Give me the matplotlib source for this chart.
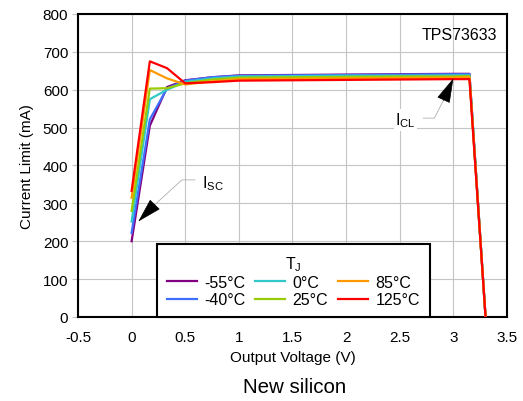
import matplotlib
matplotlib.use('Agg')
import matplotlib.pyplot as plt

plt.rcParams['font.family'] = ['Liberation Sans', 'DejaVu Sans']
plt.rcParams['mathtext.fontset'] = 'custom'
plt.rcParams['mathtext.rm'] = 'Liberation Sans'

# output voltage (V) sample points shared by every curve
volts = [0.0, 0.17, 0.33, 0.5, 0.75, 1.0, 1.5, 2.0, 2.5, 3.0, 3.15, 3.3]

temps = ['-55°C', '-40°C', '0°C', '25°C', '85°C', '125°C']
colors = ['#800080', '#3f6fff', '#30c8c8', '#99cc00', '#ff9900', '#ff0000']

# current limit (mA) per temperature
i_m55 = [200, 505, 607, 625, 633, 638, 639, 640, 641, 642, 642, 0]
i_m40 = [222, 522, 603, 624, 633, 637, 638, 639, 640, 641, 641, 0]
i_0 = [252, 575, 600, 621, 630, 635, 636, 637, 637, 638, 638, 0]
i_25 = [280, 603, 604, 617, 627, 632, 633, 634, 635, 635, 636, 0]
i_85 = [315, 652, 630, 614, 622, 628, 629, 630, 631, 632, 633, 0]
i_125 = [333, 675, 657, 617, 620, 624, 625, 626, 627, 628, 628, 0]
currents = [i_m55, i_m40, i_0, i_25, i_85, i_125]


def main():
    fig = plt.figure(figsize=(5.23, 4.02), dpi=100)
    ax = fig.add_axes([0.1491, 0.209, 0.8203, 0.7537])

    for label, color, vals in zip(temps, colors, currents):
        ax.plot(volts, vals, color=color, lw=1.6, label=label, zorder=3)

    ax.set_xlim(-0.5, 3.5)
    ax.set_ylim(0, 800)
    ax.set_xticks([-0.5, 0, 0.5, 1, 1.5, 2, 2.5, 3, 3.5])
    ax.set_xticklabels(['-0.5', '0', '0.5', '1', '1.5', '2', '2.5', '3', '3.5'])
    ax.set_yticks(range(0, 801, 100))
    ax.grid(True, color='#c4c4c4', lw=0.8)
    ax.tick_params(axis='both', labelsize=11, colors='black')
    ax.tick_params(axis='y', length=4, color='#c4c4c4', pad=3)
    ax.tick_params(axis='x', length=0, pad=9.5)
    for sp in ax.spines.values():
        sp.set_linewidth(1.5)

    ax.set_xlabel('Output Voltage (V)', fontsize=11, labelpad=4)
    ax.set_ylabel('Current Limit (mA)', fontsize=11, labelpad=6)

    ax.text(3.41, 747, 'TPS73633', ha='right', va='center', fontsize=11.5)

    # I_SC annotation
    ax.plot([0.59, 0.469, 0.203], [362, 362, 293], color='#b0b0b0', lw=0.6, zorder=4)
    ax.annotate('', xy=(0.062, 252), xytext=(0.203, 293),
                arrowprops=dict(arrowstyle='-|>,head_length=1.6,head_width=0.45',
                                color='black', lw=0.5, shrinkA=0, shrinkB=0,
                                mutation_scale=10), zorder=5)
    ax.text(0.656, 356, r'I$_\mathregular{SC}$', ha='left', va='center', fontsize=11.5,
            bbox=dict(facecolor='white', edgecolor='none', pad=1), zorder=4)

    # I_CL annotation
    ax.plot([2.72, 2.823, 2.907], [525, 525, 572], color='#b0b0b0', lw=0.6, zorder=4)
    ax.annotate('', xy=(3.0, 630), xytext=(2.907, 572),
                arrowprops=dict(arrowstyle='-|>,head_length=1.6,head_width=0.45',
                                color='black', lw=0.5, shrinkA=0, shrinkB=0,
                                mutation_scale=10), zorder=5)
    ax.text(2.457, 520, r'I$_\mathregular{CL}$', ha='left', va='center', fontsize=11.5,
            bbox=dict(facecolor='white', edgecolor='none', pad=1), zorder=4)

    leg = ax.legend(ncol=3, loc='lower center', bbox_to_anchor=(0.502, 0.0),
                    borderaxespad=0, fontsize=11.5, title=r'T$_\mathregular{J}$',
                    title_fontsize=11.5, frameon=True, fancybox=False,
                    handlelength=1.9, handletextpad=0.45, columnspacing=0.6,
                    borderpad=0.6, labelspacing=0.15)
    leg.get_frame().set_edgecolor('black')
    leg.get_frame().set_linewidth(1.5)
    leg.get_frame().set_alpha(1)
    leg.set_zorder(6)

    fig.text(0.564, 0.022, 'New silicon', ha='center', va='baseline', fontsize=14.8)

    fig.savefig('out.png', dpi=100)


if __name__ == '__main__':
    main()
